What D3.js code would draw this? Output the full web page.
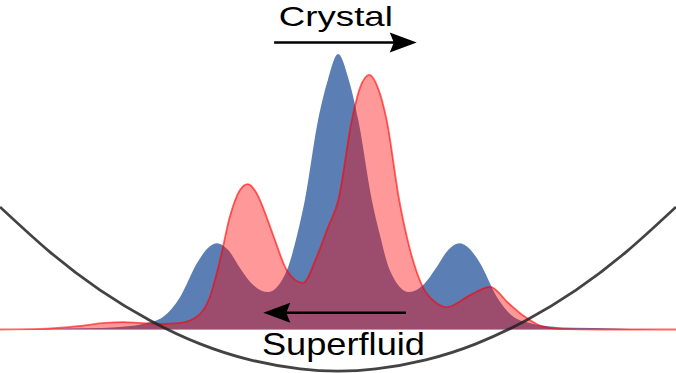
<!DOCTYPE html>
<html>
<head>
<meta charset="utf-8">
<script src="https://cdn.jsdelivr.net/npm/d3@7"></script>
<style>
  body { margin: 0; background: #fff; }
  svg { display: block; }
</style>
</head>
<body>
<div id="chart"></div>
<script>
// density of the crystal state (blue)
const blueX = [-10, -9.1, -8.2, -7.0, -6.3, -5.7, -5.18, -4.67, -4.17, -3.88, -3.59, -3.25, -2.9, -2.54, -2.07,
  -1.51, -1.21, -0.98, -0.59, -0.30, 0, 0.32, 0.6, 1.0, 1.24, 1.53, 2.1, 2.55, 2.9, 3.26, 3.6, 3.9, 4.2,
  4.7, 5.2, 5.72, 6.3, 7.0, 8.2, 9.1, 10];
const blueY = [0, 0.001, 0.004, 0.005, 0.011, 0.022, 0.045, 0.118, 0.241, 0.292, 0.313, 0.289, 0.223, 0.165, 0.136,
  0.216, 0.343, 0.470, 0.760, 0.906, 1.0, 0.906, 0.760, 0.470, 0.343, 0.216, 0.136, 0.165, 0.223, 0.289, 0.313, 0.292, 0.241,
  0.118, 0.045, 0.022, 0.011, 0.006, 0.004, 0.001, 0];

// density of the superfluid state (red)
const redX = [-10, -8.82, -7.63, -6.89, -6.36, -5.86, -5.27, -4.67, -4.18, -3.79, -3.49, -3.2, -2.9, -2.67, -2.43,
  -2.31, -1.92, -1.52, -1.27, -1.04, -0.63, -0.30, 0.01, 0.41, 0.65, 0.93, 1.18, 1.44, 1.81, 2.13, 2.51,
  2.87, 3.22, 3.91, 4.50, 5.04, 5.53, 6.0, 6.51, 7.75, 10];
const redY = [0, 0.002, 0.013, 0.024, 0.027, 0.024, 0.020, 0.024, 0.046, 0.119, 0.252, 0.409, 0.506, 0.528, 0.499,
  0.470, 0.343, 0.216, 0.180, 0.169, 0.264, 0.370, 0.470, 0.760, 0.877, 0.924, 0.877, 0.760, 0.470, 0.290, 0.154,
  0.100, 0.081, 0.125, 0.155, 0.096, 0.046, 0.013, 0.002, 0, 0];

// trap potential
const trapX = [-10, -8.52, -7.04, -5.56, -4.08, -2.6, -1.12, 0, 1.12, 2.6, 4.08, 5.56, 7.04, 8.52, 10];
const trapY = [0.445, 0.281, 0.143, 0.033, -0.052, -0.110, -0.143, -0.151, -0.143, -0.110, -0.052, 0.033, 0.143, 0.281, 0.445];

// annotations
const labels = ["Crystal", "Superfluid"];
const arrowFrom = [[-1.89, 1.042], [2.01, 0.061]];
const arrowTo = [[2.33, 1.042], [-2.21, 0.061]];
const labelPos = [[-1.75, 1.1], [-2.25, -0.094]];

const width = 676, height = 373;

const svg = d3.select("#chart").append("svg")
    .attr("width", width)
    .attr("height", height);

const x = d3.scaleLinear().domain([-10, 10]).range([0, width]);
const y = d3.scaleLinear().domain([0, 1]).range([329.5, 54]);

const blue = blueX.map((v, i) => [v, blueY[i]]);
const red = redX.map((v, i) => [v, redY[i]]);
const trap = trapX.map((v, i) => [v, trapY[i]]);

const area = d3.area()
    .x(d => x(d[0]))
    .y0(y(0))
    .y1(d => y(d[1]))
    .curve(d3.curveMonotoneX);

const line = d3.line()
    .x(d => x(d[0]))
    .y(d => y(d[1]))
    .curve(d3.curveMonotoneX);

svg.append("path")
    .attr("d", area(blue))
    .attr("fill", "#5b7fb4");

svg.append("path")
    .attr("d", area(red))
    .attr("fill", "red")
    .attr("fill-opacity", 0.4);

svg.append("path")
    .attr("d", line(red))
    .attr("fill", "none")
    .attr("stroke", "red")
    .attr("stroke-opacity", 0.6)
    .attr("stroke-width", 1.8);

svg.append("path")
    .attr("d", d3.line().x(d => x(d[0])).y(d => y(d[1])).curve(d3.curveNatural)(trap))
    .attr("fill", "none")
    .attr("stroke", "#222")
    .attr("stroke-opacity", 0.85)
    .attr("stroke-width", 2.8);

// arrows
arrowFrom.forEach((p, i) => {
  const x0 = x(p[0]), y0 = y(p[1]);
  const x1 = x(arrowTo[i][0]), y1 = y(arrowTo[i][1]);
  const dir = Math.sign(x1 - x0);
  const headLen = 27, headHalf = 10;
  svg.append("line")
      .attr("x1", x0).attr("y1", y0)
      .attr("x2", x1 - dir * headLen * 0.6).attr("y2", y1)
      .attr("stroke", "#000")
      .attr("stroke-width", 2.4);
  svg.append("path")
      .attr("d", `M${x1},${y1}L${x1 - dir * headLen},${y1 - headHalf}L${x1 - dir * headLen * 0.85},${y1}L${x1 - dir * headLen},${y1 + headHalf}Z`)
      .attr("fill", "#000");
});

// labels
const textLen = [114, 163];
const fontSize = [27.5, 30.5];
labels.forEach((t, i) => {
  svg.append("text")
      .attr("x", x(labelPos[i][0]))
      .attr("y", y(labelPos[i][1]))
      .attr("font-family", "Liberation Sans, Arial, sans-serif")
      .attr("font-size", fontSize[i])
      .attr("textLength", textLen[i])
      .attr("lengthAdjust", "spacingAndGlyphs")
      .attr("fill", "#000")
      .text(t);
});
</script>
</body>
</html>
